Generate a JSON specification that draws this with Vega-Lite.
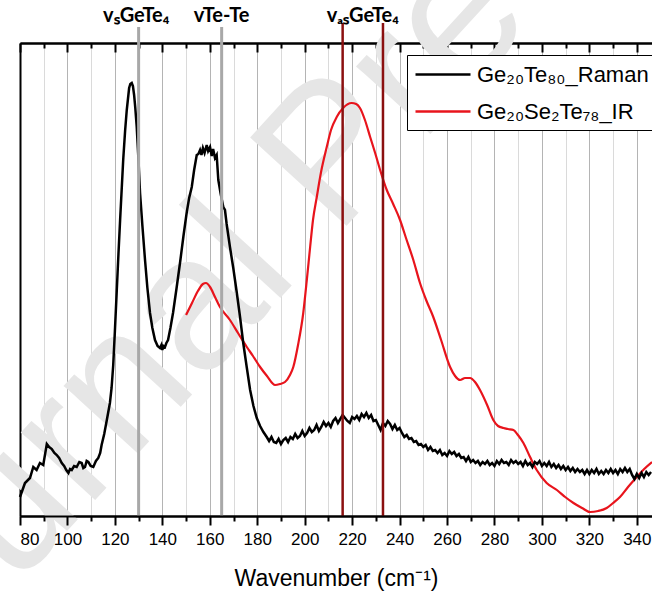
{
  "$schema": "https://vega.github.io/schema/vega-lite/v6.json",
  "width": 632,
  "height": 473,
  "autosize": {"type": "none"},
  "padding": {"left": 20, "top": 43, "right": 0, "bottom": 78},
  "background": "white",
  "config": {
    "view": {"stroke": null},
    "axis": {"domainColor": "black", "tickColor": "black", "domainWidth": 2, "tickWidth": 2, "labelFont": "Liberation Sans", "titleFont": "Liberation Sans"},
    "legend": {"orient": "none", "legendX": 387, "legendY": 12, "symbolType": "M-1,0H4", "symbolSize": 484, "symbolStrokeWidth": 2.3, "labelFontSize": 22, "labelFont": "Liberation Sans", "labelColor": "black", "strokeColor": "black", "fillColor": "white", "padding": 7, "rowPadding": 13, "labelOffset": 38, "labelLimit": 0}
  },
  "datasets": {
    "watermark": [{"note": "Journal Pre-proof"}],
    "ir": [
      {"wavenumber": 150.0, "intensity": 201}, {"wavenumber": 152.5, "intensity": 213}, {"wavenumber": 155.0, "intensity": 225}, {"wavenumber": 157.1, "intensity": 232}, {"wavenumber": 158.4, "intensity": 233}, {"wavenumber": 160.1, "intensity": 229}, {"wavenumber": 162.2, "intensity": 219}, {"wavenumber": 164.3, "intensity": 209}, {"wavenumber": 168.5, "intensity": 196}, {"wavenumber": 171.9, "intensity": 183}, {"wavenumber": 175.6, "intensity": 169}, {"wavenumber": 178.2, "intensity": 160}, {"wavenumber": 181.2, "intensity": 149}, {"wavenumber": 184.1, "intensity": 140}, {"wavenumber": 187.5, "intensity": 131}, {"wavenumber": 189.6, "intensity": 132}, {"wavenumber": 191.7, "intensity": 134}, {"wavenumber": 193.8, "intensity": 141}, {"wavenumber": 195.2, "intensity": 149}, {"wavenumber": 197.2, "intensity": 171}, {"wavenumber": 199.4, "intensity": 203}, {"wavenumber": 200.9, "intensity": 236}, {"wavenumber": 202.3, "intensity": 269}, {"wavenumber": 203.5, "intensity": 296}, {"wavenumber": 205.1, "intensity": 319}, {"wavenumber": 206.9, "intensity": 344}, {"wavenumber": 209.3, "intensity": 369}, {"wavenumber": 211.1, "intensity": 386}, {"wavenumber": 213.5, "intensity": 399}, {"wavenumber": 216.2, "intensity": 408}, {"wavenumber": 219.8, "intensity": 413}, {"wavenumber": 221.7, "intensity": 412}, {"wavenumber": 223.3, "intensity": 408}, {"wavenumber": 225.4, "intensity": 396}, {"wavenumber": 227.6, "intensity": 379}, {"wavenumber": 229.7, "intensity": 363}, {"wavenumber": 231.8, "intensity": 346}, {"wavenumber": 234.6, "intensity": 326}, {"wavenumber": 237.3, "intensity": 312}, {"wavenumber": 240.2, "intensity": 296}, {"wavenumber": 242.7, "intensity": 278}, {"wavenumber": 245.8, "intensity": 256}, {"wavenumber": 248.6, "intensity": 233}, {"wavenumber": 251.2, "intensity": 216}, {"wavenumber": 254.2, "intensity": 199}, {"wavenumber": 257.5, "intensity": 176}, {"wavenumber": 261.3, "intensity": 149}, {"wavenumber": 263.4, "intensity": 140}, {"wavenumber": 265.5, "intensity": 136}, {"wavenumber": 267.6, "intensity": 138}, {"wavenumber": 269.7, "intensity": 138}, {"wavenumber": 271.8, "intensity": 134}, {"wavenumber": 273.9, "intensity": 126}, {"wavenumber": 276.9, "intensity": 111}, {"wavenumber": 279.5, "intensity": 96}, {"wavenumber": 281.5, "intensity": 90}, {"wavenumber": 283.8, "intensity": 88}, {"wavenumber": 285.7, "intensity": 87}, {"wavenumber": 288.0, "intensity": 86}, {"wavenumber": 289.9, "intensity": 81}, {"wavenumber": 292.2, "intensity": 73}, {"wavenumber": 295.0, "intensity": 59}, {"wavenumber": 297.8, "intensity": 46}, {"wavenumber": 302.0, "intensity": 33}, {"wavenumber": 306.3, "intensity": 26}, {"wavenumber": 309.8, "intensity": 19}, {"wavenumber": 313.3, "intensity": 13}, {"wavenumber": 316.9, "intensity": 8}, {"wavenumber": 320.3, "intensity": 4}, {"wavenumber": 323.7, "intensity": 5}, {"wavenumber": 327.3, "intensity": 8}, {"wavenumber": 330.0, "intensity": 13}, {"wavenumber": 332.9, "intensity": 19}, {"wavenumber": 336.3, "intensity": 29}, {"wavenumber": 340.0, "intensity": 39}, {"wavenumber": 343.1, "intensity": 47}, {"wavenumber": 346.4, "intensity": 54}
    ],
    "raman": [
      {"wavenumber": 80.0, "intensity": 19}, {"wavenumber": 82.1, "intensity": 33}, {"wavenumber": 84.2, "intensity": 38}, {"wavenumber": 85.6, "intensity": 49}, {"wavenumber": 87.0, "intensity": 46}, {"wavenumber": 88.4, "intensity": 53}, {"wavenumber": 89.8, "intensity": 51}, {"wavenumber": 91.3, "intensity": 72}, {"wavenumber": 92.3, "intensity": 69}, {"wavenumber": 93.4, "intensity": 67}, {"wavenumber": 94.5, "intensity": 63}, {"wavenumber": 95.5, "intensity": 61}, {"wavenumber": 96.5, "intensity": 58}, {"wavenumber": 97.6, "intensity": 53}, {"wavenumber": 98.6, "intensity": 50}, {"wavenumber": 99.5, "intensity": 46}, {"wavenumber": 100.4, "intensity": 43}, {"wavenumber": 101.1, "intensity": 47}, {"wavenumber": 101.8, "intensity": 46}, {"wavenumber": 102.8, "intensity": 50}, {"wavenumber": 103.9, "intensity": 49}, {"wavenumber": 105.0, "intensity": 54}, {"wavenumber": 106.0, "intensity": 53}, {"wavenumber": 106.7, "intensity": 48}, {"wavenumber": 107.4, "intensity": 49}, {"wavenumber": 108.1, "intensity": 55}, {"wavenumber": 108.8, "intensity": 54}, {"wavenumber": 109.8, "intensity": 50}, {"wavenumber": 110.9, "intensity": 49}, {"wavenumber": 112.0, "intensity": 55}, {"wavenumber": 113.0, "intensity": 58}, {"wavenumber": 113.8, "intensity": 63}, {"wavenumber": 114.4, "intensity": 71}, {"wavenumber": 115.5, "intensity": 82}, {"wavenumber": 116.6, "intensity": 96}, {"wavenumber": 117.9, "intensity": 113}, {"wavenumber": 118.6, "intensity": 128}, {"wavenumber": 119.3, "intensity": 151}, {"wavenumber": 120.0, "intensity": 185}, {"wavenumber": 120.8, "intensity": 226}, {"wavenumber": 121.5, "intensity": 262}, {"wavenumber": 122.2, "intensity": 296}, {"wavenumber": 123.5, "intensity": 356}, {"wavenumber": 124.3, "intensity": 385}, {"wavenumber": 125.0, "intensity": 406}, {"wavenumber": 126.0, "intensity": 428}, {"wavenumber": 126.5, "intensity": 432}, {"wavenumber": 127.1, "intensity": 433}, {"wavenumber": 127.6, "intensity": 430}, {"wavenumber": 128.1, "intensity": 421}, {"wavenumber": 128.6, "intensity": 408}, {"wavenumber": 129.2, "intensity": 389}, {"wavenumber": 129.9, "intensity": 358}, {"wavenumber": 130.6, "intensity": 323}, {"wavenumber": 131.6, "intensity": 290}, {"wavenumber": 132.7, "intensity": 256}, {"wavenumber": 133.7, "intensity": 228}, {"wavenumber": 134.8, "intensity": 203}, {"wavenumber": 135.8, "intensity": 188}, {"wavenumber": 136.9, "intensity": 176}, {"wavenumber": 138.0, "intensity": 170}, {"wavenumber": 139.0, "intensity": 168}, {"wavenumber": 139.6, "intensity": 171}, {"wavenumber": 140.0, "intensity": 166}, {"wavenumber": 140.5, "intensity": 170}, {"wavenumber": 141.1, "intensity": 169}, {"wavenumber": 141.7, "intensity": 173}, {"wavenumber": 142.4, "intensity": 176}, {"wavenumber": 143.4, "intensity": 188}, {"wavenumber": 144.5, "intensity": 203}, {"wavenumber": 146.0, "intensity": 228}, {"wavenumber": 147.5, "intensity": 254}, {"wavenumber": 148.9, "intensity": 280}, {"wavenumber": 150.3, "intensity": 304}, {"wavenumber": 151.3, "intensity": 318}, {"wavenumber": 152.4, "intensity": 329}, {"wavenumber": 153.4, "intensity": 346}, {"wavenumber": 154.5, "intensity": 361}, {"wavenumber": 155.2, "intensity": 362}, {"wavenumber": 155.9, "intensity": 366}, {"wavenumber": 156.5, "intensity": 361}, {"wavenumber": 157.1, "intensity": 368}, {"wavenumber": 157.8, "intensity": 363}, {"wavenumber": 158.7, "intensity": 371}, {"wavenumber": 159.3, "intensity": 365}, {"wavenumber": 160.1, "intensity": 369}, {"wavenumber": 160.8, "intensity": 360}, {"wavenumber": 161.4, "intensity": 367}, {"wavenumber": 162.2, "intensity": 358}, {"wavenumber": 162.9, "intensity": 361}, {"wavenumber": 163.6, "intensity": 336}, {"wavenumber": 164.6, "intensity": 322}, {"wavenumber": 165.7, "intensity": 309}, {"wavenumber": 166.4, "intensity": 306}, {"wavenumber": 167.1, "intensity": 292}, {"wavenumber": 168.5, "intensity": 269}, {"wavenumber": 169.9, "intensity": 248}, {"wavenumber": 171.4, "intensity": 223}, {"wavenumber": 172.7, "intensity": 200}, {"wavenumber": 174.1, "intensity": 173}, {"wavenumber": 175.5, "intensity": 150}, {"wavenumber": 177.0, "intensity": 126}, {"wavenumber": 178.4, "intensity": 110}, {"wavenumber": 179.8, "intensity": 98}, {"wavenumber": 181.2, "intensity": 90}, {"wavenumber": 182.6, "intensity": 84}, {"wavenumber": 184.0, "intensity": 79},
      {"wavenumber": 185, "intensity": 75}, {"wavenumber": 186, "intensity": 79}, {"wavenumber": 187, "intensity": 74}, {"wavenumber": 188, "intensity": 73}, {"wavenumber": 189, "intensity": 77}, {"wavenumber": 190, "intensity": 72}, {"wavenumber": 191, "intensity": 76}, {"wavenumber": 192, "intensity": 78}, {"wavenumber": 193, "intensity": 74}, {"wavenumber": 194, "intensity": 79}, {"wavenumber": 195, "intensity": 77}, {"wavenumber": 196, "intensity": 82}, {"wavenumber": 197, "intensity": 78}, {"wavenumber": 198, "intensity": 80}, {"wavenumber": 199, "intensity": 85}, {"wavenumber": 200, "intensity": 80}, {"wavenumber": 201, "intensity": 83}, {"wavenumber": 202, "intensity": 88}, {"wavenumber": 203, "intensity": 84}, {"wavenumber": 204, "intensity": 86}, {"wavenumber": 205, "intensity": 91}, {"wavenumber": 206, "intensity": 85}, {"wavenumber": 207, "intensity": 89}, {"wavenumber": 208, "intensity": 94}, {"wavenumber": 209, "intensity": 90}, {"wavenumber": 210, "intensity": 93}, {"wavenumber": 211, "intensity": 89}, {"wavenumber": 212, "intensity": 95}, {"wavenumber": 213, "intensity": 98}, {"wavenumber": 214, "intensity": 93}, {"wavenumber": 215, "intensity": 97}, {"wavenumber": 216, "intensity": 101}, {"wavenumber": 217, "intensity": 98}, {"wavenumber": 218, "intensity": 95}, {"wavenumber": 219, "intensity": 93}, {"wavenumber": 220, "intensity": 99}, {"wavenumber": 221, "intensity": 97}, {"wavenumber": 222, "intensity": 100}, {"wavenumber": 223, "intensity": 96}, {"wavenumber": 224, "intensity": 102}, {"wavenumber": 225, "intensity": 99}, {"wavenumber": 226, "intensity": 103}, {"wavenumber": 227, "intensity": 98}, {"wavenumber": 228, "intensity": 101}, {"wavenumber": 229, "intensity": 95}, {"wavenumber": 230, "intensity": 96}, {"wavenumber": 231, "intensity": 91}, {"wavenumber": 232, "intensity": 86}, {"wavenumber": 233, "intensity": 93}, {"wavenumber": 234, "intensity": 90}, {"wavenumber": 235, "intensity": 95}, {"wavenumber": 236, "intensity": 92}, {"wavenumber": 237, "intensity": 87}, {"wavenumber": 238, "intensity": 91}, {"wavenumber": 239, "intensity": 86}, {"wavenumber": 240, "intensity": 88}, {"wavenumber": 241, "intensity": 83}, {"wavenumber": 242, "intensity": 79}, {"wavenumber": 243, "intensity": 81}, {"wavenumber": 244, "intensity": 77}, {"wavenumber": 245, "intensity": 78}, {"wavenumber": 246, "intensity": 74}, {"wavenumber": 247, "intensity": 75}, {"wavenumber": 248, "intensity": 71}, {"wavenumber": 249, "intensity": 72}, {"wavenumber": 250, "intensity": 69}, {"wavenumber": 251, "intensity": 71}, {"wavenumber": 252, "intensity": 66}, {"wavenumber": 253, "intensity": 69}, {"wavenumber": 254, "intensity": 65}, {"wavenumber": 255, "intensity": 66}, {"wavenumber": 256, "intensity": 63}, {"wavenumber": 257, "intensity": 66}, {"wavenumber": 258, "intensity": 61}, {"wavenumber": 259, "intensity": 63}, {"wavenumber": 260, "intensity": 60}, {"wavenumber": 261, "intensity": 65}, {"wavenumber": 262, "intensity": 62}, {"wavenumber": 263, "intensity": 64}, {"wavenumber": 264, "intensity": 60}, {"wavenumber": 265, "intensity": 62}, {"wavenumber": 266, "intensity": 58}, {"wavenumber": 267, "intensity": 59}, {"wavenumber": 268, "intensity": 55}, {"wavenumber": 269, "intensity": 59}, {"wavenumber": 270, "intensity": 54}, {"wavenumber": 271, "intensity": 56}, {"wavenumber": 272, "intensity": 53}, {"wavenumber": 273, "intensity": 55}, {"wavenumber": 274, "intensity": 51}, {"wavenumber": 275, "intensity": 54}, {"wavenumber": 276, "intensity": 52}, {"wavenumber": 277, "intensity": 55}, {"wavenumber": 278, "intensity": 51}, {"wavenumber": 279, "intensity": 53}, {"wavenumber": 280, "intensity": 50}, {"wavenumber": 281, "intensity": 55}, {"wavenumber": 282, "intensity": 52}, {"wavenumber": 283, "intensity": 56}, {"wavenumber": 284, "intensity": 53}, {"wavenumber": 285, "intensity": 54}, {"wavenumber": 286, "intensity": 51}, {"wavenumber": 287, "intensity": 56}, {"wavenumber": 288, "intensity": 53}, {"wavenumber": 289, "intensity": 55}, {"wavenumber": 290, "intensity": 52}, {"wavenumber": 291, "intensity": 54}, {"wavenumber": 292, "intensity": 50}, {"wavenumber": 293, "intensity": 55}, {"wavenumber": 294, "intensity": 51}, {"wavenumber": 295, "intensity": 53}, {"wavenumber": 296, "intensity": 49}, {"wavenumber": 297, "intensity": 54}, {"wavenumber": 298, "intensity": 52}, {"wavenumber": 299, "intensity": 55}, {"wavenumber": 300, "intensity": 50}, {"wavenumber": 301, "intensity": 53}, {"wavenumber": 302, "intensity": 50}, {"wavenumber": 303, "intensity": 54}, {"wavenumber": 304, "intensity": 49}, {"wavenumber": 305, "intensity": 52}, {"wavenumber": 306, "intensity": 48}, {"wavenumber": 307, "intensity": 51}, {"wavenumber": 308, "intensity": 47}, {"wavenumber": 309, "intensity": 50}, {"wavenumber": 310, "intensity": 46}, {"wavenumber": 311, "intensity": 49}, {"wavenumber": 312, "intensity": 45}, {"wavenumber": 313, "intensity": 48}, {"wavenumber": 314, "intensity": 44}, {"wavenumber": 315, "intensity": 47}, {"wavenumber": 316, "intensity": 44}, {"wavenumber": 317, "intensity": 46}, {"wavenumber": 318, "intensity": 42}, {"wavenumber": 319, "intensity": 46}, {"wavenumber": 320, "intensity": 42}, {"wavenumber": 321, "intensity": 46}, {"wavenumber": 322, "intensity": 43}, {"wavenumber": 323, "intensity": 47}, {"wavenumber": 324, "intensity": 42}, {"wavenumber": 325, "intensity": 45}, {"wavenumber": 326, "intensity": 42}, {"wavenumber": 327, "intensity": 46}, {"wavenumber": 328, "intensity": 43}, {"wavenumber": 329, "intensity": 47}, {"wavenumber": 330, "intensity": 43}, {"wavenumber": 331, "intensity": 46}, {"wavenumber": 332, "intensity": 42}, {"wavenumber": 333, "intensity": 47}, {"wavenumber": 334, "intensity": 44}, {"wavenumber": 335, "intensity": 48}, {"wavenumber": 336, "intensity": 44}, {"wavenumber": 337, "intensity": 47}, {"wavenumber": 338, "intensity": 41}, {"wavenumber": 339, "intensity": 37}, {"wavenumber": 340, "intensity": 42}, {"wavenumber": 341, "intensity": 38}, {"wavenumber": 342, "intensity": 43}, {"wavenumber": 343, "intensity": 39}, {"wavenumber": 344, "intensity": 44}, {"wavenumber": 345, "intensity": 41}, {"wavenumber": 346, "intensity": 44}
    ],
    "grayLines": [{"wavenumber": 130}, {"wavenumber": 165}],
    "redLines": [{"wavenumber": 216}, {"wavenumber": 233}],
    "labels": [{"label": "vₛGeTe₄", "wavenumber": 129}, {"label": "vTe-Te", "wavenumber": 165}, {"label": "vₐₛGeTe₄", "wavenumber": 224.5}]
  },
  "layer": [
    {
      "data": {"name": "watermark"},
      "mark": {"type": "text", "font": "Liberation Sans", "fontSize": 190, "angle": 312.5, "fill": "#e6e6e6", "align": "center", "baseline": "middle"},
      "encoding": {
        "x": {"datum": 212, "type": "quantitative", "scale": {"domain": [80, 346.4], "nice": false, "zero": false}, "axis": null},
        "y": {"datum": 360, "type": "quantitative", "scale": {"domain": [0, 473], "nice": false, "zero": false}, "axis": {"domain": true, "ticks": false, "labels": false, "grid": false, "title": null}},
        "text": {"field": "note"}
      }
    },
    {
      "data": {"name": "ir"},
      "mark": {"type": "line", "strokeWidth": 2.2, "interpolate": "monotone"},
      "encoding": {
        "x": {"field": "wavenumber", "type": "quantitative", "axis": {"orient": "bottom", "values": [90, 110, 130, 150, 170, 190, 210, 230, 250, 270, 290, 310, 330], "grid": true, "gridColor": "#dadada", "gridWidth": 1, "tickSize": 5, "labels": false, "title": null, "domain": true}},
        "y": {"field": "intensity", "type": "quantitative", "axis": {"domain": true, "ticks": false, "labels": false, "grid": false, "title": null}},
        "color": {"datum": "Ge₂₀Se₂Te₇₈_IR", "type": "nominal", "scale": {"domain": ["Ge₂₀Te₈₀_Raman", "Ge₂₀Se₂Te₇₈_IR"], "range": ["#000000", "#e8141c"]}, "legend": {"title": null}}
      }
    },
    {
      "data": {"name": "raman"},
      "mark": {"type": "line", "strokeWidth": 2.5},
      "encoding": {
        "x": {"field": "wavenumber", "type": "quantitative", "axis": {"orient": "bottom", "values": [80, 100, 120, 140, 160, 180, 200, 220, 240, 260, 280, 300, 320, 340], "grid": false, "zindex": 1, "tickSize": 9, "labelFontSize": 17, "labelColor": "black", "labelPadding": 6, "title": "Wavenumber (cm⁻¹)", "titleFontSize": 23, "titleFontWeight": "normal", "titleColor": "black", "titlePadding": 20, "domain": true}},
        "y": {"field": "intensity", "type": "quantitative", "axis": {"domain": true, "ticks": false, "labels": false, "grid": false, "title": null}},
        "color": {"datum": "Ge₂₀Te₈₀_Raman", "type": "nominal"}
      }
    },
    {
      "data": {"name": "grayLines"},
      "mark": {"type": "rule", "color": "#a8a8a8", "strokeWidth": 3},
      "encoding": {
        "x": {"field": "wavenumber", "type": "quantitative", "axis": {"orient": "top", "values": [80, 100, 120, 140, 160, 180, 200, 220, 240, 260, 280, 300, 320, 340], "grid": false, "tickSize": -9, "labels": false, "title": null, "domain": true}},
        "y": {"datum": 0, "type": "quantitative", "axis": {"domain": true, "ticks": false, "labels": false, "grid": false, "title": null}},
        "y2": {"datum": 489}
      }
    },
    {
      "data": {"name": "redLines"},
      "mark": {"type": "rule", "color": "#8b1010", "strokeWidth": 2.5},
      "encoding": {
        "x": {"field": "wavenumber", "type": "quantitative", "axis": {"orient": "top", "values": [90, 110, 130, 150, 170, 190, 210, 230, 250, 270, 290, 310, 330], "grid": false, "tickSize": -5, "labels": false, "title": null, "domain": true}},
        "y": {"datum": 0, "type": "quantitative", "axis": {"domain": true, "ticks": false, "labels": false, "grid": false, "title": null}},
        "y2": {"datum": 493}
      }
    },
    {
      "data": {"name": "labels"},
      "mark": {"type": "text", "font": "Lato", "fontWeight": "bold", "fontSize": 20, "color": "black", "align": "center", "baseline": "alphabetic"},
      "encoding": {
        "x": {"field": "wavenumber", "type": "quantitative", "axis": {"orient": "bottom", "values": [80, 100, 120, 140, 160, 180, 200, 220, 240, 260, 280, 300, 320, 340], "grid": true, "gridColor": "#b4b4b4", "gridWidth": 1, "ticks": false, "labels": false, "domain": false, "title": null}},
        "y": {"datum": 494, "type": "quantitative", "axis": {"domain": true, "ticks": false, "labels": false, "grid": false, "title": null}},
        "text": {"field": "label"}
      }
    }
  ],
  "resolve": {"axis": {"x": "independent"}}
}
